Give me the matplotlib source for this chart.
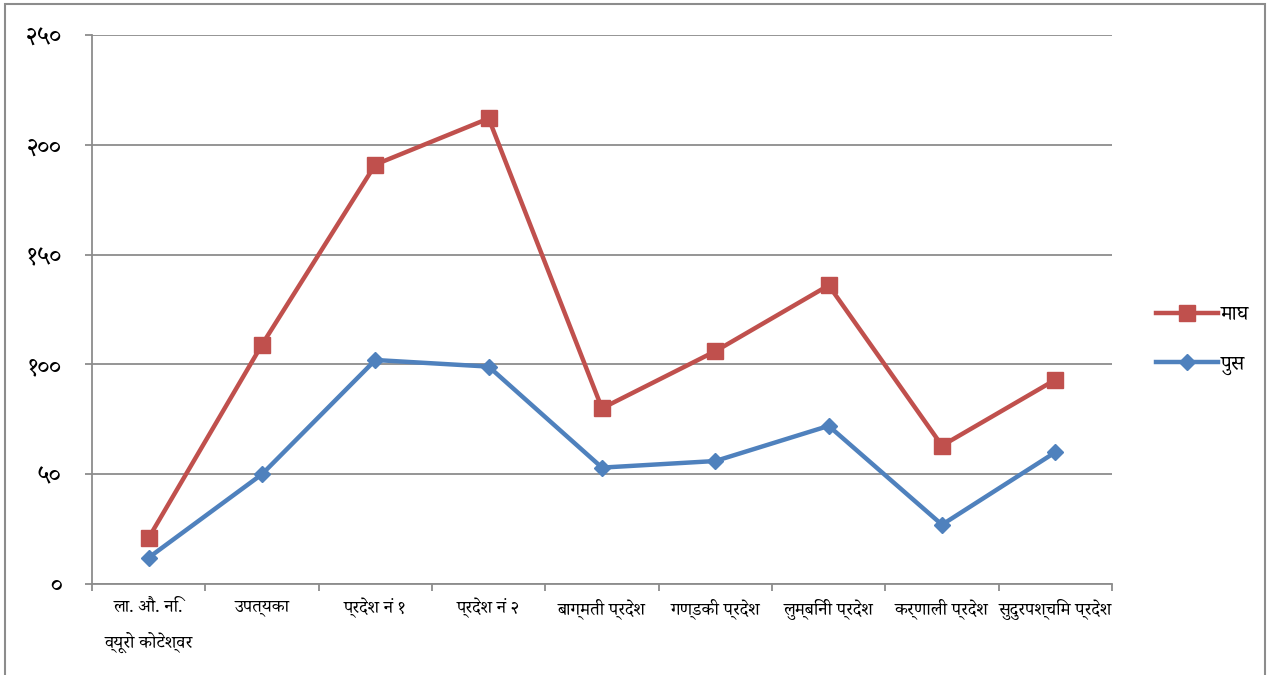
import matplotlib
matplotlib.use("Agg")
import matplotlib.pyplot as plt
from matplotlib.patches import Rectangle

categories = ["ला. औ. नि.\nव्यूरो कोटेश्वर", "उपत्यका", "प्रदेश नं १", "प्रदेश नं २",
              "बाग्मती प्रदेश", "गण्डकी प्रदेश", "लुम्बिनी प्रदेश", "कर्णाली प्रदेश",
              "सुदुरपश्चिम प्रदेश"]
magh = [21, 109, 191, 212, 80, 106, 136, 63, 93]
pus = [12, 50, 102, 99, 53, 56, 72, 27, 60]
series_names = ["माघ", "पुस"]
y_ticks = [0, 50, 100, 150, 200, 250]
y_tick_labels = ["०", "५०", "१००", "१५०", "२००", "२५०"]

plt.rcParams["font.family"] = ["Noto Serif Devanagari", "DejaVu Sans"]

fig = plt.figure(figsize=(12.7, 6.75), dpi=100)
ax = fig.add_axes([92 / 1270, 1 - 584 / 675, (1112 - 92) / 1270, (584 - 35) / 675])

x = list(range(len(categories)))
red = "#C0504D"
blue = "#4F81BD"
ax.plot(x, magh, color=red, lw=3.2, marker="s", ms=11.5, label=series_names[0], zorder=3)
ax.plot(x, pus, color=blue, lw=3.2, marker="D", ms=8.5, label=series_names[1], zorder=3)

ax.set_xlim(-0.5, len(categories) - 0.5)
ax.set_ylim(0, 250)
ax.set_yticks(y_ticks)
ax.set_yticklabels(y_tick_labels, fontsize=18)
ax.yaxis.grid(True, color="#8c8c8c", lw=1.3)
ax.set_axisbelow(True)

ax.set_xticks([i - 0.5 for i in range(len(categories) + 1)])
ax.set_xticklabels([])
ax.set_xticks(x, minor=True)
ax.set_xticklabels(categories, minor=True, fontsize=13, linespacing=2.0, va="top")
ax.tick_params(axis="x", which="minor", length=0, pad=10)
ax.tick_params(axis="x", which="major", length=5, color="#8c8c8c", width=1.3)
ax.tick_params(axis="y", length=5, color="#8c8c8c", width=1.3, pad=17)

for s in ["top", "right"]:
    ax.spines[s].set_visible(False)
for s in ["left", "bottom"]:
    ax.spines[s].set_color("#8c8c8c")
    ax.spines[s].set_linewidth(1.3)

leg = fig.legend(loc="center left", bbox_to_anchor=(1137 / 1270, 1 - 339 / 675),
                 frameon=False, fontsize=15, handlelength=3.0, labelspacing=1.3,
                 handletextpad=0.1)

fig.patches.append(Rectangle((5 / 1270, -0.05), (1265 - 5) / 1270, 1.05 - 4 / 675,
                             transform=fig.transFigure, fill=False,
                             edgecolor="#8c8c8c", lw=1.5))

fig.savefig("out.png", dpi=100)
